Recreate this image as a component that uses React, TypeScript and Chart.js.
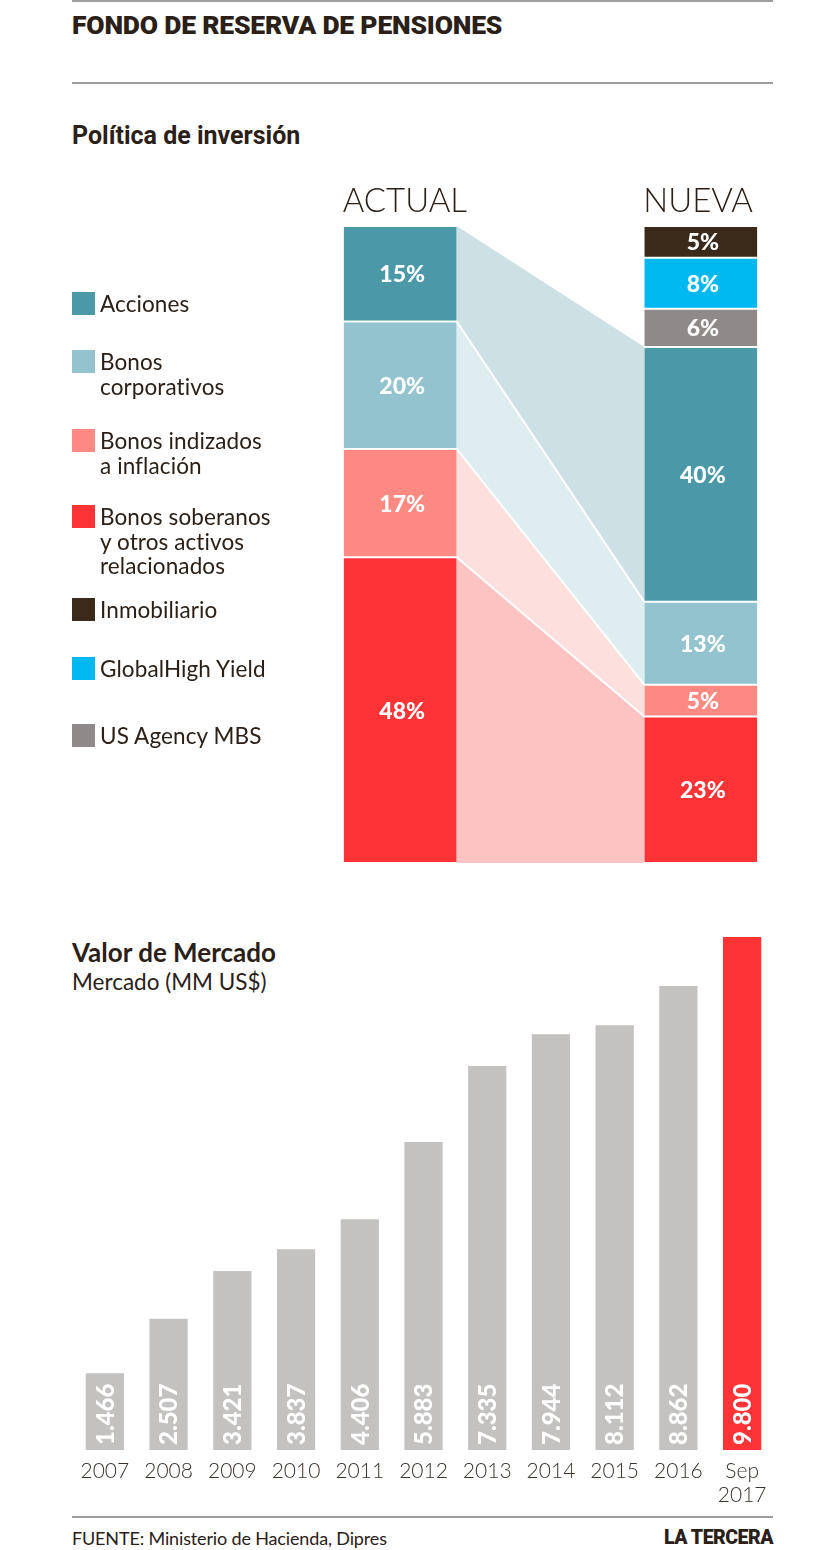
import React, { useEffect, useRef } from "react";
import { Chart, registerables } from "chart.js";

Chart.register(...registerables);

// ---------- Data: Política de inversión ----------
const policyCategories = ["ACTUAL", "", "NUEVA"];
const soberanos = [48, null, 23];
const indizados = [17, null, 5];
const corporativos = [20, null, 13];
const acciones = [15, null, 40];
const usAgencyMbs = [0, null, 6];
const globalHighYield = [0, null, 8];
const inmobiliario = [0, null, 5];

// ---------- Data: Valor de Mercado ----------
const years = ["2007", "2008", "2009", "2010", "2011", "2012", "2013", "2014", "2015", "2016", ["Sep", "2017"]];
const marketValues = [1466, 2507, 3421, 3837, 4406, 5883, 7335, 7944, 8112, 8862, 9800];

const DARK = "#2b2017";
const C = {
  soberanos: "#fe3335",
  indizados: "#fd8a82",
  corporativos: "#93c3cf",
  acciones: "#4a98a8",
  mbs: "#8f8a89",
  hy: "#00b8f0",
  inmob: "#3b2a19",
};
const FLOW = {
  soberanos: "#fdc3c3",
  indizados: "#fde0dd",
  corporativos: "#ddedf0",
  acciones: "#cde0e4",
};

const legendItems = [
  { color: C.acciones, lines: ["Acciones"], top: 292 },
  { color: C.corporativos, lines: ["Bonos", "corporativos"], top: 350 },
  { color: C.indizados, lines: ["Bonos indizados", "a inflación"], top: 429 },
  { color: C.soberanos, lines: ["Bonos soberanos", "y otros activos", "relacionados"], top: 505 },
  { color: C.inmob, lines: ["Inmobiliario"], top: 598 },
  { color: C.hy, lines: ["GlobalHigh Yield"], top: 657 },
  { color: C.mbs, lines: ["US Agency MBS"], top: 724 },
];

const fmt = (n: number) => (n / 1000).toFixed(3);

const flowPlugin = {
  id: "flows",
  beforeDatasetsDraw(chart: any) {
    const ctx = chart.ctx;
    ctx.save();
    const segs: any[] = [];
    chart.data.datasets.forEach((ds: any, i: number) => {
      if (!ds.data[0]) return;
      const meta = chart.getDatasetMeta(i);
      const a = meta.data[0].getProps(["x", "y", "base", "width"], true);
      const n = meta.data[2].getProps(["x", "y", "base", "width"], true);
      const aR = a.x + a.width / 2;
      const nL = n.x - n.width / 2;
      ctx.fillStyle = ds.flowColor;
      ctx.beginPath();
      ctx.moveTo(aR, a.y);
      ctx.lineTo(nL, n.y);
      ctx.lineTo(nL, n.base);
      ctx.lineTo(aR, a.base);
      ctx.closePath();
      ctx.fill();
      segs.push({ aR, nL, ab: a.base, nb: n.base, i });
    });
    ctx.strokeStyle = "#ffffff";
    ctx.lineWidth = 2;
    segs.forEach((s) => {
      if (s.i === 0) return;
      ctx.beginPath();
      ctx.moveTo(s.aR, s.ab);
      ctx.lineTo(s.nL, s.nb);
      ctx.stroke();
    });
    ctx.restore();
  },
  afterDatasetsDraw(chart: any) {
    const ctx = chart.ctx;
    ctx.save();
    ctx.fillStyle = "#ffffff";
    ctx.font = "900 23px Lato";
    ctx.textAlign = "center";
    ctx.textBaseline = "middle";
    chart.data.datasets.forEach((ds: any, i: number) => {
      const meta = chart.getDatasetMeta(i);
      [0, 2].forEach((idx) => {
        const v = ds.data[idx];
        if (!v) return;
        const el = meta.data[idx].getProps(["x", "y", "base"], true);
        ctx.fillText(v + "%", el.x + 2, (el.y + el.base) / 2 + 1);
      });
    });
    // category headers, left-aligned with their bars
    const meta0 = chart.getDatasetMeta(0);
    ctx.fillStyle = DARK;
    ctx.font = "300 33px Lato";
    ctx.textAlign = "left";
    ctx.textBaseline = "alphabetic";
    chart.data.labels.forEach((lab: string, i: number) => {
      if (!lab) return;
      const el = meta0.data[i].getProps(["x", "width"], true);
      ctx.fillText(lab, el.x - el.width / 2 - 1, chart.chartArea.top - 14);
    });
    ctx.restore();
  },
};

const marketPlugin = {
  id: "marketLabels",
  afterDatasetsDraw(chart: any) {
    const ctx = chart.ctx;
    const meta = chart.getDatasetMeta(0);
    ctx.save();
    ctx.fillStyle = "#ffffff";
    ctx.font = "900 24px Lato";
    ctx.textAlign = "left";
    ctx.textBaseline = "middle";
    chart.data.datasets[0].data.forEach((v: number, i: number) => {
      const el = meta.data[i].getProps(["x", "base"], true);
      ctx.save();
      ctx.translate(el.x + 1, el.base - 5);
      ctx.rotate(-Math.PI / 2);
      ctx.fillText(fmt(v), 0, 0);
      ctx.restore();
    });
    const xs = chart.scales.x;
    ctx.fillStyle = "#3a332d";
    ctx.font = "300 21px Lato";
    ctx.textAlign = "center";
    chart.data.labels.forEach((lab: any, i: number) => {
      const lines = Array.isArray(lab) ? lab : [lab];
      lines.forEach((ln: string, k: number) => {
        ctx.fillText(ln, xs.getPixelForValue(i), chart.chartArea.bottom + 21 + k * 24);
      });
    });
    ctx.restore();
  },
};

function PolicyChart() {
  const ref = useRef<HTMLCanvasElement>(null);
  useEffect(() => {
    const mk = (label: string, data: any[], color: string, flowColor?: string) => ({
      label,
      data,
      backgroundColor: color,
      borderColor: "#ffffff",
      borderWidth: { top: 1, bottom: 1, left: 0, right: 0 },
      borderSkipped: false,
      inflateAmount: 0,
      flowColor,
    });
    const chart = new Chart(ref.current!, {
      type: "bar",
      data: {
        labels: policyCategories,
        datasets: [
          mk("Bonos soberanos y otros activos relacionados", soberanos, C.soberanos, FLOW.soberanos),
          mk("Bonos indizados a inflación", indizados, C.indizados, FLOW.indizados),
          mk("Bonos corporativos", corporativos, C.corporativos, FLOW.corporativos),
          mk("Acciones", acciones, C.acciones, FLOW.acciones),
          mk("US Agency MBS", usAgencyMbs, C.mbs),
          mk("GlobalHigh Yield", globalHighYield, C.hy),
          mk("Inmobiliario", inmobiliario, C.inmob),
        ] as any,
      },
      options: {
        animation: false,
        responsive: false,
        maintainAspectRatio: false,
        layout: { padding: { left: 325, right: 44, top: 56, bottom: 17 } },
        datasets: { bar: { categoryPercentage: 1, barPercentage: 0.752 } },
        scales: {
          x: { stacked: true, display: false },
          y: { stacked: true, display: false, min: 0, max: 100 },
        },
        plugins: { legend: { display: false }, tooltip: { enabled: false } },
      } as any,
      plugins: [flowPlugin],
    });
    return () => chart.destroy();
  }, []);
  return (
    <canvas
      ref={ref}
      width={820}
      height={710}
      style={{ position: "absolute", left: 0, top: 170, width: 820, height: 710 }}
    />
  );
}

function MarketChart() {
  const ref = useRef<HTMLCanvasElement>(null);
  useEffect(() => {
    const chart = new Chart(ref.current!, {
      type: "bar",
      data: {
        labels: years as any,
        datasets: [
          {
            label: "Mercado (MM US$)",
            data: marketValues,
            backgroundColor: marketValues.map((_, i) => (i === marketValues.length - 1 ? C.soberanos : "#c4c2c0")),
            borderWidth: 0,
            categoryPercentage: 1,
            barPercentage: 0.6,
          } as any,
        ],
      },
      options: {
        animation: false,
        responsive: false,
        maintainAspectRatio: false,
        layout: { padding: { left: 73, right: 46, top: 26.5, bottom: 60 } },
        scales: {
          x: { display: false },
          y: { display: false, min: 0, max: 10000 },
        },
        plugins: { legend: { display: false }, tooltip: { enabled: false } },
      } as any,
      plugins: [marketPlugin],
    });
    return () => chart.destroy();
  }, []);
  return (
    <canvas
      ref={ref}
      width={820}
      height={610}
      style={{ position: "absolute", left: 0, top: 900, width: 820, height: 610 }}
    />
  );
}

const abs = (top: number, left: number, extra: any = {}) => ({
  position: "absolute" as const,
  top,
  left,
  whiteSpace: "nowrap" as const,
  ...extra,
});

export default function App() {
  const rule = (top: number) => (
    <div style={{ position: "absolute", top, left: 72, width: 701, height: 2, background: "#a09e9c" }} />
  );
  return (
    <div
      style={{
        position: "absolute",
        left: 0,
        top: 0,
        width: 820,
        height: 1550,
        background: "#ffffff",
        fontFamily: "Lato, sans-serif",
        color: DARK,
        overflow: "hidden",
      }}
    >
      {rule(0)}
      <div
        style={abs(10, 72, {
          fontFamily: "Roboto",
          fontWeight: 900,
          fontSize: 26.5,
          lineHeight: "30px",
          letterSpacing: -0.2,
        })}
      >
        FONDO DE RESERVA DE PENSIONES
      </div>
      {rule(82)}
      <div
        style={abs(122, 72, {
          fontFamily: "Roboto",
          fontWeight: 700,
          fontSize: 25,
          lineHeight: "28px",
          letterSpacing: 0,
        })}
      >
        Política de inversión
      </div>

      <PolicyChart />

      {legendItems.map((it, i) => (
        <div key={i}>
          <div style={{ position: "absolute", top: it.top, left: 72, width: 23, height: 23, background: it.color }} />
          <div style={abs(it.top, 100, { fontSize: 22.5, lineHeight: "24.5px", fontWeight: 400, letterSpacing: 0.1 })}>
            {it.lines.map((l, k) => (
              <div key={k}>{l}</div>
            ))}
          </div>
        </div>
      ))}

      <div style={abs(937, 72, { fontSize: 26, fontWeight: 700, lineHeight: "30px" })}>Valor de Mercado</div>
      <div style={abs(969, 72, { fontSize: 22.5, fontWeight: 400, lineHeight: "26px" })}>Mercado (MM US$)</div>

      <MarketChart />

      {rule(1516)}
      <div style={abs(1527, 72, { fontSize: 18, fontWeight: 400, lineHeight: "22px", letterSpacing: -0.15 })}>
        FUENTE: Ministerio de Hacienda, Dipres
      </div>
      <div
        style={abs(1527, 0, {
          left: "auto",
          right: 47,
          fontFamily: "Roboto",
          fontWeight: 900,
          fontSize: 19.5,
          lineHeight: "22px",
          letterSpacing: -0.5,
        })}
      >
        LA TERCERA
      </div>
    </div>
  );
}
